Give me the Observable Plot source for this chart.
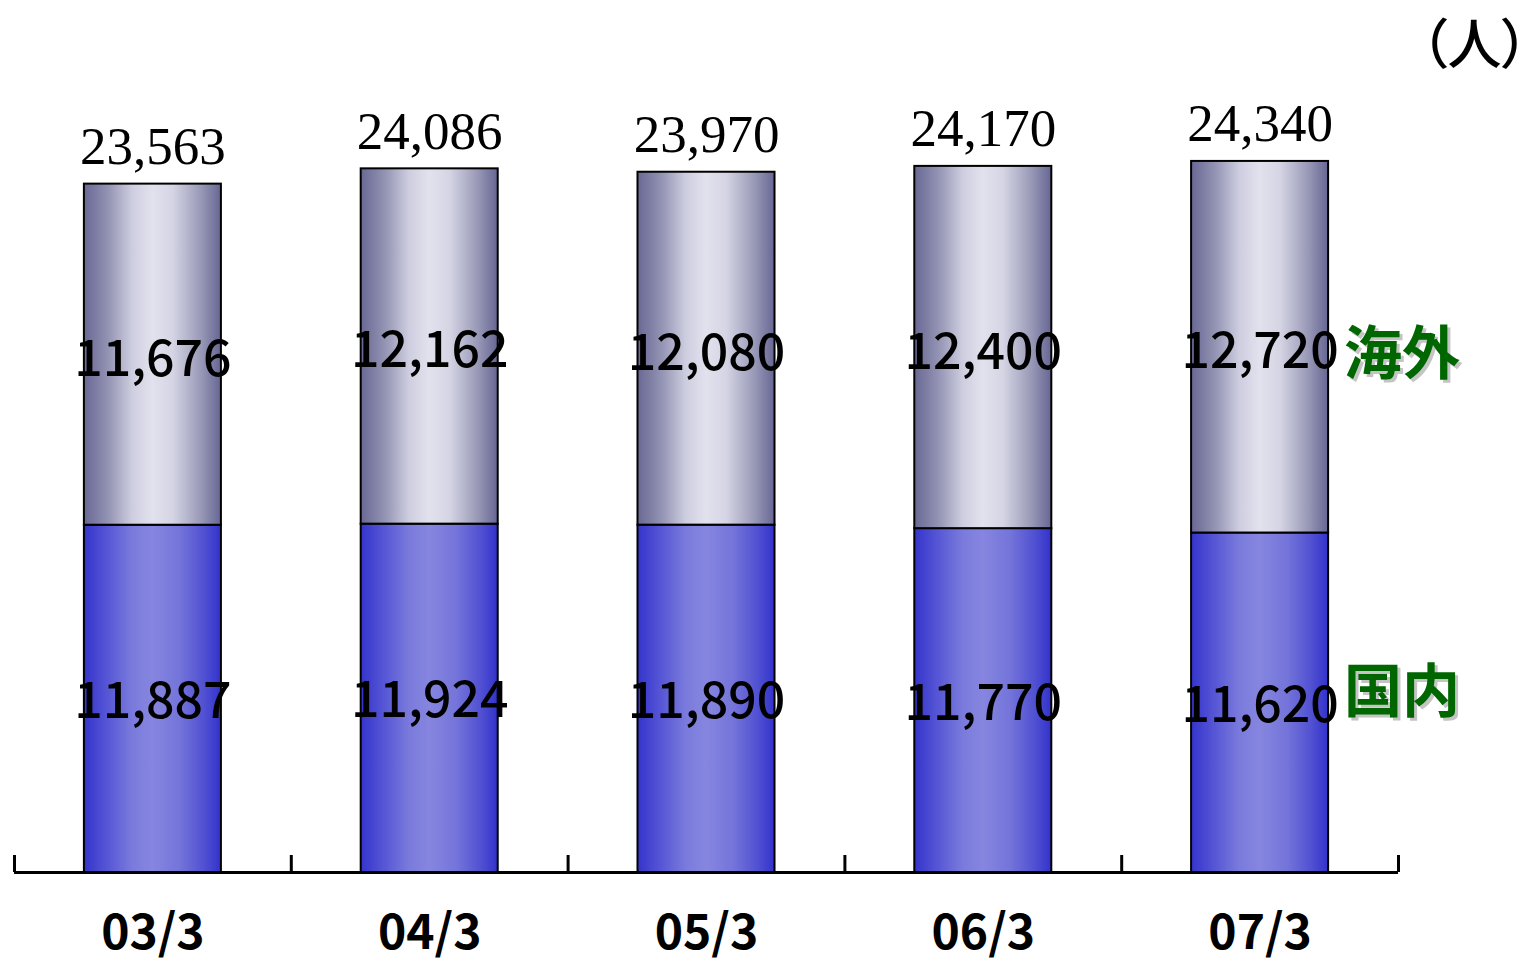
<!DOCTYPE html>
<html>
<head>
<meta charset="utf-8">
<script src="https://cdn.jsdelivr.net/npm/d3@7"></script>
<script src="https://cdn.jsdelivr.net/npm/@observablehq/plot@0.6"></script>
<style>
  html, body { margin: 0; padding: 0; background: #fff; }
  svg { display: block; }
</style>
</head>
<body>
<div id="chart"></div>
<script>
const categories = ["03/3", "04/3", "05/3", "06/3", "07/3"];
const domestic = [11887, 11924, 11890, 11770, 11620];
const overseas = [11676, 12162, 12080, 12400, 12720];
const totals = [23563, 24086, 23970, 24170, 24340];
const seriesNames = ["国内", "海外"];
const unitLabel = "（人）";

const fmt = d3.format(",");
const halfBar = 0.2475;
const idx = categories.map((c, i) => i);

const rows = idx.map(i => ({
  i, cat: categories[i],
  dom: domestic[i], ovs: overseas[i], total: totals[i]
}));
const boundaries = d3.range(categories.length + 1).map(k => k - 0.5);
const last = rows[rows.length - 1];
const ovsLabel = [{name: seriesNames[1], i: last.i, y: last.dom + last.ovs / 2}];
const domLabel = [{name: seriesNames[0], i: last.i, y: last.dom / 2}];

const sans = "'Noto Sans CJK JP', 'Noto Sans', sans-serif";
const serif = "'Liberation Serif', 'Times New Roman', serif";

const seriesText = (data, dy) => [
  Plot.text(data, {x: "i", y: "y", text: "name", textAnchor: "start", dx: 87, dy: dy + 3,
    fontFamily: sans, fontSize: 58, fontWeight: 700, fill: "#c4c4c4", lineAnchor: "middle"}),
  Plot.text(data, {x: "i", y: "y", text: "name", textAnchor: "start", dx: 84, dy: dy,
    fontFamily: sans, fontSize: 58, fontWeight: 700, fill: "#006600", lineAnchor: "middle"})
];

const chart = Plot.plot({
  width: 1535,
  height: 962,
  marginLeft: 14,
  marginRight: 137,
  marginTop: 54,
  marginBottom: 90,
  x: {type: "linear", domain: [-0.5, categories.length - 0.5], axis: null},
  y: {domain: [0, 28000], axis: null},
  marks: [
    Plot.rectY(rows, {x1: d => d.i - halfBar, x2: d => d.i + halfBar, y1: 0, y2: d => d.dom,
      fill: "url(#gradDom)", stroke: "#000", strokeWidth: 2}),
    Plot.rectY(rows, {x1: d => d.i - halfBar, x2: d => d.i + halfBar, y1: d => d.dom, y2: d => d.dom + d.ovs,
      fill: "url(#gradOvs)", stroke: "#000", strokeWidth: 2}),
    Plot.ruleY([0], {stroke: "#000", strokeWidth: 3}),
    Plot.ruleX(boundaries, {x: d => d, y1: 0, y2: 0, insetTop: -17, stroke: "#000", strokeWidth: 3}),
    Plot.text(rows, {x: "i", y: d => d.dom / 2, text: d => fmt(d.dom),
      fontFamily: sans, fontSize: 50, fontWeight: 500, fill: "#000", lineAnchor: "middle", dy: 3,
      letterSpacing: "3px"}),
    Plot.text(rows, {x: "i", y: d => d.dom + d.ovs / 2, text: d => fmt(d.ovs),
      fontFamily: sans, fontSize: 50, fontWeight: 500, fill: "#000", lineAnchor: "middle", dy: 5,
      letterSpacing: "3px"}),
    Plot.text(rows, {x: "i", y: d => d.total, text: d => fmt(d.total),
      fontFamily: serif, fontSize: 53, fill: "#000", lineAnchor: "bottom", dy: -20}),
    Plot.text(rows, {x: "i", y: 0, text: "cat",
      fontFamily: sans, fontSize: 48, fontWeight: 700, fill: "#000", lineAnchor: "middle", dy: 61,
      letterSpacing: "6px"}),
    ...seriesText(ovsLabel, 8),
    ...seriesText(domLabel, -9),
    Plot.text([unitLabel], {frameAnchor: "top-right", text: d => d, dx: 130, dy: -29,
      fontFamily: sans, fontSize: 54, fontWeight: 500, fill: "#000", lineAnchor: "top"})
  ]
});

const svg = d3.select(chart);
svg.selectAll("text").filter(function () { return this.textContent === unitLabel; })
  .style("font-feature-settings", '"palt"');
const defs = svg.insert("defs", ":first-child");
const g1 = defs.append("linearGradient").attr("id", "gradDom").attr("x1", "0").attr("x2", "1").attr("y1", "0").attr("y2", "0");
[[0, "#3434cc"], [0.18, "#5858d6"], [0.35, "#7a7adc"], [0.5, "#8686e0"], [0.7, "#7474da"], [0.88, "#5050d2"], [1, "#3232cc"]]
  .forEach(([o, c]) => g1.append("stop").attr("offset", o).attr("stop-color", c));
const g2 = defs.append("linearGradient").attr("id", "gradOvs").attr("x1", "0").attr("x2", "1").attr("y1", "0").attr("y2", "0");
[[0, "#686894"], [0.18, "#9494b4"], [0.35, "#cdcddf"], [0.5, "#e2e2ee"], [0.65, "#d4d4e4"], [0.85, "#9a9ab8"], [1, "#666694"]]
  .forEach(([o, c]) => g2.append("stop").attr("offset", o).attr("stop-color", c));

document.getElementById("chart").appendChild(chart);
</script>
</body>
</html>
